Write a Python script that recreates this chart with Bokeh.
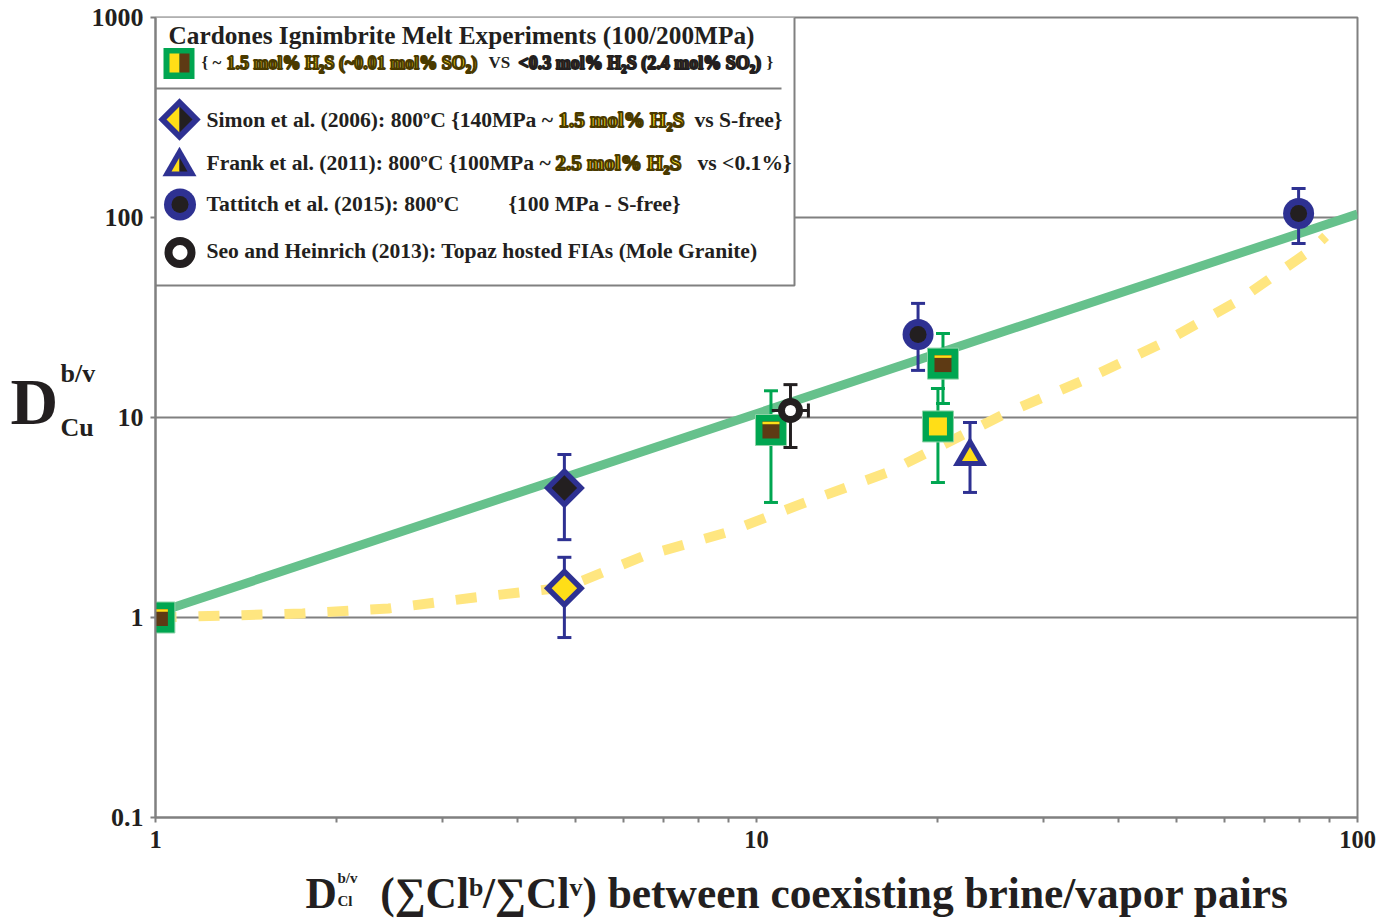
import math
from bokeh.plotting import figure
from bokeh.models import Range1d, FixedTicker, NumeralTickFormatter, Label
from bokeh.embed import file_html
from bokeh.resources import INLINE

# ---------------- data ----------------
# Cardones Ignimbrite melt experiments, <0.3 mol% H2S (brown fill)
card_low_x = [1.015, 10.57, 20.43]
card_low_y = [1.00, 8.66, 18.6]
card_low_ylo = [1.00, 3.76, 11.75]
card_low_yhi = [1.00, 13.6, 26.3]
# Cardones, ~1.5 mol% H2S (yellow fill)
card_high_x = [20.04]
card_high_y = [9.02]
card_high_ylo = [4.73]
card_high_yhi = [13.96]
# Simon et al. (2006): S-free (black) and 1.5 mol% H2S (yellow)
simon_free_x = [4.79]
simon_free_y = [4.44]
simon_free_ylo = [2.45]
simon_free_yhi = [6.53]
simon_h2s_x = [4.79]
simon_h2s_y = [1.40]
simon_h2s_ylo = [0.794]
simon_h2s_yhi = [2.00]
# Frank et al. (2011): 2.5 mol% H2S
frank_x = [22.66]
frank_y = [6.40]
frank_ylo = [4.22]
frank_yhi = [9.44]
# Tattitch et al. (2015)
tatt_x = [18.57, 79.8]
tatt_y = [26.0, 104.7]
tatt_ylo = [17.2, 74.1]
tatt_yhi = [37.2, 139.6]
# Seo and Heinrich (2013)
seo_x = [11.39]
seo_y = [10.84]
seo_ylo = [7.08]
seo_yhi = [14.6]
seo_xlo = [10.6]
seo_xhi = [12.2]
# trend lines
trend_x = [1.0, 100.0]
trend_y = [1.05, 104.0]
sulfur_x = [1.0, 1.757, 2.442, 3.395, 4.81, 6.46, 8.92, 12.16, 16.52, 25.96, 35.27, 47.56, 63.4, 83.5, 88.5]
sulfur_y = [1.0, 1.047, 1.109, 1.259, 1.413, 2.018, 2.66, 3.80, 5.31, 10.47, 15.49, 23.71, 38.46, 68.4, 80.4]
# axes
x_ticks = [1, 10, 100]
x_minor = [2, 3, 4, 5, 6, 7, 8, 9, 20, 30, 40, 50, 60, 70, 80, 90]
y_ticks = [0.1, 1, 10, 100, 1000]

# ---------------- style ----------------
GREEN = "#00A651"
BROWN = "#5E3A14"
YELLOW = "#FFDE17"
NAVY = "#2E3192"
BLACK = "#231F20"
GRAY = "#808080"
LINE_GREEN = "#66C18C"
LINE_YELLOW = "#FFE680"
FONT = "Liberation Serif"

# page-pixel layout of the frame (for legend / label placement)
W, H = 1390, 922
FX0, FX1, FY0, FY1 = 155, 1357, 17, 817
PX_DEC_X = (FX1 - FX0) / 2.0
PX_DEC_Y = (FY1 - FY0) / 4.0


def at(px, py):
    """convert a page pixel position to data coordinates"""
    return 10 ** ((px - FX0) / PX_DEC_X), 10 ** ((FY1 - py) / PX_DEC_Y - 1)


p = figure(x_axis_type="log", y_axis_type="log",
           x_range=Range1d(1, 100), y_range=Range1d(0.1, 1000),
           frame_width=FX1 - FX0, frame_height=FY1 - FY0,
           min_border_left=FX0, min_border_right=W - FX1,
           min_border_top=FY0, min_border_bottom=H - FY1,
           output_backend="svg", toolbar_location=None)
p.background_fill_color = "white"
p.border_fill_color = "white"
p.outline_line_color = GRAY
p.outline_line_width = 2
p.xgrid.visible = False
p.ygrid.grid_line_color = GRAY
p.ygrid.grid_line_width = 2

p.xaxis.ticker = FixedTicker(ticks=x_ticks, minor_ticks=x_minor)
p.yaxis.ticker = FixedTicker(ticks=y_ticks)
for ax in (p.xaxis[0], p.yaxis[0]):
    ax.formatter = NumeralTickFormatter(format="0.[0]")
    ax.axis_line_color = GRAY
    ax.axis_line_width = 2
    ax.major_tick_line_color = GRAY
    ax.major_tick_line_width = 2
    ax.major_tick_out = 5
    ax.major_tick_in = 0
    ax.minor_tick_line_color = GRAY
    ax.minor_tick_line_width = 2
    ax.minor_tick_out = 5
    ax.minor_tick_in = 0
    ax.major_label_text_font = FONT
    ax.major_label_text_font_style = "bold"
    ax.major_label_text_color = BLACK
p.xaxis.major_label_text_font_size = "24.5px"
p.yaxis.major_label_text_font_size = "26px"
p.yaxis.minor_tick_line_color = None
p.yaxis.major_label_standoff = 7
p.xaxis.major_label_standoff = 8

# ---------------- legend box (under the data) ----------------
bl, bt = at(FX0, 16)
br, bb = at(794, 285)
p.quad(left=[bl], right=[br], top=[bt], bottom=[bb], fill_color="white",
       line_color=GRAY, line_width=2)
s0 = at(FX0, 88)
s1 = at(781, 88)
p.segment(x0=[s0[0]], y0=[s0[1]], x1=[s1[0]], y1=[s1[1]], line_color=GRAY, line_width=2)

# ---------------- trend lines ----------------
p.line(trend_x, trend_y, line_color=LINE_GREEN, line_width=9)
p.line(sulfur_x, sulfur_y, line_color=LINE_YELLOW, line_width=10,
       line_dash="21 22", line_cap="butt")


# ---------------- error bars ----------------
def yerr(x, lo, hi, color):
    p.segment(x0=x, y0=lo, x1=x, y1=hi, line_color=color, line_width=3)
    p.scatter(x, lo, marker="dash", size=14, line_color=color, line_width=3)
    p.scatter(x, hi, marker="dash", size=14, line_color=color, line_width=3)


yerr(card_low_x, card_low_ylo, card_low_yhi, GREEN)
yerr(card_high_x, card_high_ylo, card_high_yhi, GREEN)
yerr(simon_free_x, simon_free_ylo, simon_free_yhi, NAVY)
yerr(simon_h2s_x, simon_h2s_ylo, simon_h2s_yhi, NAVY)
yerr(frank_x, frank_ylo, frank_yhi, NAVY)
yerr(tatt_x, tatt_ylo, tatt_yhi, NAVY)
yerr(seo_x, seo_ylo, seo_yhi, BLACK)
p.segment(x0=seo_xlo, y0=seo_y, x1=seo_xhi, y1=seo_y, line_color=BLACK, line_width=3)
p.scatter(seo_xhi, seo_y, marker="dash", angle=math.pi / 2, size=14, line_color=BLACK, line_width=3)

# ---------------- markers ----------------
# Cardones: green squares
p.scatter(card_low_x, card_low_y, marker="square", size=31, fill_color=GREEN, line_color="#8FD3A8", line_width=1)
p.scatter(card_low_x, card_low_y, marker="square", size=17, fill_color=BROWN, line_color=None)
stripe_y = [v * 10 ** (7 / PX_DEC_Y) for v in card_low_y]
p.rect(card_low_x, stripe_y, width=17, height=2.5, width_units="screen", height_units="screen",
       fill_color=YELLOW, line_color=None)
p.scatter(card_high_x, card_high_y, marker="square", size=31, fill_color=GREEN, line_color="#8FD3A8", line_width=1)
p.scatter(card_high_x, card_high_y, marker="square", size=18, fill_color=YELLOW, line_color=None)
# Simon: diamonds
p.scatter(simon_free_x, simon_free_y, marker="square", angle=math.pi / 4, size=29, fill_color=NAVY, line_color=None)
p.scatter(simon_free_x, simon_free_y, marker="square", angle=math.pi / 4, size=18, fill_color=BLACK, line_color=None)
p.scatter(simon_h2s_x, simon_h2s_y, marker="square", angle=math.pi / 4, size=29, fill_color=NAVY, line_color=None)
p.scatter(simon_h2s_x, simon_h2s_y, marker="square", angle=math.pi / 4, size=18, fill_color=YELLOW, line_color=None)
# Frank: triangle
p.scatter(frank_x, frank_y, marker="triangle", size=34, fill_color=NAVY, line_color=None)
p.scatter(frank_x, frank_y, marker="triangle", size=16, fill_color=YELLOW, line_color=None)
# Tattitch: circles
p.scatter(tatt_x, tatt_y, marker="circle", size=31, fill_color=NAVY, line_color=None)
p.scatter(tatt_x, tatt_y, marker="circle", size=17, fill_color=BLACK, line_color=None)
# Seo: ring
p.scatter(seo_x, seo_y, marker="circle", size=25, fill_color=BLACK, line_color=None)
p.scatter(seo_x, seo_y, marker="circle", size=11, fill_color="white", line_color=None)


# ---------------- legend symbols ----------------
def patch_px(points, color):
    xs = [at(a, b)[0] for a, b in points]
    ys = [at(a, b)[1] for a, b in points]
    p.patch(xs, ys, fill_color=color, line_color=None)


c = at(178.5, 63)
p.scatter([c[0]], [c[1]], marker="square", size=31, fill_color=GREEN, line_color=None)
patch_px([(169, 53), (179, 53), (179, 72), (169, 72)], YELLOW)
patch_px([(179, 53), (189, 53), (189, 72), (179, 72)], BROWN)

c = at(179, 119)
p.scatter([c[0]], [c[1]], marker="square", angle=math.pi / 4, size=30, fill_color=NAVY, line_color=None)
patch_px([(166, 119), (179, 106), (179, 132)], YELLOW)
patch_px([(179, 106), (192, 119), (179, 132)], BLACK)

c = at(179, 166)
p.scatter([c[0]], [c[1]], marker="triangle", size=34, fill_color=NAVY, line_color=None)
patch_px([(179, 157), (171, 171), (179, 171)], YELLOW)
patch_px([(179, 157), (179, 171), (187, 171)], BLACK)

c = at(179.5, 204)
p.scatter([c[0]], [c[1]], marker="circle", size=32, fill_color=NAVY, line_color=None)
p.scatter([c[0]], [c[1]], marker="circle", size=17, fill_color=BLACK, line_color=None)

c = at(179.5, 252)
p.scatter([c[0]], [c[1]], marker="circle", size=31, fill_color=BLACK, line_color=None)
p.scatter([c[0]], [c[1]], marker="circle", size=15, fill_color="white", line_color=None)


# ---------------- texts ----------------
def txt(px, py, text, size, color=BLACK, outline=None, side=None, line_height=1.2):
    x, y = at(px, py)
    kw = {}
    if outline:
        kw["text_outline_color"] = outline
    lab = Label(x=x, y=y, text=text, text_font=FONT, text_font_style="bold",
                text_font_size=f"{size}px", text_color=color, text_align="left",
                text_baseline="middle", text_line_height=line_height, **kw)
    if side is None:
        p.add_layout(lab)
    else:
        p.add_layout(lab, side)


# legend texts
txt(168, 34, "Cardones Ignimbrite Melt Experiments (100/200MPa)", 25.3)
txt(201, 62, "{ ~", 17)
txt(226, 62, "1.5 mol% H\u2082S (~0.01 mol% SO\u2082)", 18, YELLOW, "#4A3A00")
txt(488, 62, "VS", 17)
txt(518, 62, "<0.3 mol% H\u2082S (2.4 mol% SO\u2082)", 18, BROWN, BLACK)
txt(766, 62, "}", 17)

txt(206, 119.5, "Simon et al. (2006): 800\u00baC {140MPa ~", 21.6)
txt(558, 119.5, "1.5 mol% H\u2082S", 21, YELLOW, "#4A3A00")
txt(694, 119.5, "vs S-free}", 21.6)

txt(206, 162, "Frank et al. (2011): 800\u00baC {100MPa ~", 21.6)
txt(555, 162, "2.5 mol% H\u2082S", 21, YELLOW, "#4A3A00")
txt(697, 162, "vs <0.1%}", 21.6)

txt(206, 203, "Tattitch et al. (2015): 800\u00baC", 21.6)
txt(508, 203, "{100 MPa - S-free}", 21.6)

txt(206, 250, "Seo and Heinrich (2013): Topaz hosted FIAs (Mole Granite)", 21.6)

# y axis title (left border)
txt(10, 401, "D", 66, side="left")
txt(60, 400, "b/v\nCu", 26, side="left", line_height=1.88)

# x axis title (bottom border)
txt(305, 892, "D\u2003(\u2211Cl\u1d47/\u2211Cl\u1d5b) between coexisting brine/vapor pairs", 43.4, side="below")
txt(337, 889, "b/v\nCl", 15, side="right", line_height=1.4)

open("out.html", "w").write(file_html(p, INLINE))
